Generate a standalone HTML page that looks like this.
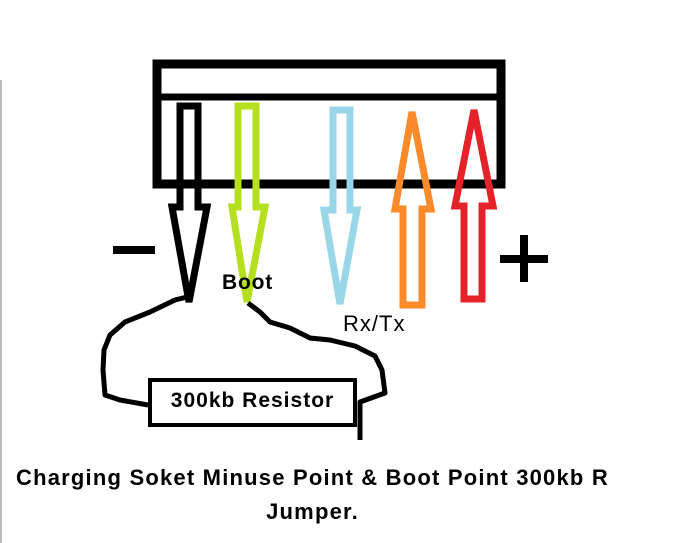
<!DOCTYPE html>
<html><head><style>
body{margin:0;background:#fff;width:679px;height:543px;overflow:hidden;position:relative;font-family:"Liberation Sans",sans-serif}
.t{position:absolute;font-weight:bold;color:#000;white-space:nowrap}
</style></head><body>
<div style="position:absolute;left:0;top:80px;width:2px;height:463px;background:#bbb"></div>
<svg width="679" height="543" style="position:absolute;left:0;top:0">
<rect x="157" y="64" width="344" height="120" fill="none" stroke="#000" stroke-width="9"/>
<line x1="157" y1="97" x2="501" y2="97" stroke="#000" stroke-width="7"/>
<g fill="none" stroke-width="7" stroke-linejoin="miter">
<path d="M180 106 L198 106 L198 207 L207 207 L189 302 L172 207 L180 207 Z" stroke="#000"/>
<path d="M238 106 L256 106 L256 207 L265 207 L247 302 L232 207 L238 207 Z" stroke="#b5e01f"/>
<path d="M333 110 L350 110 L350 210 L357 210 L340 304 L324 210 L333 210 Z" stroke="#99d6e8"/>
<path d="M412 112 L431 209 L422 209 L422 305 L403 305 L403 209 L395 209 Z" stroke="#fb8a2b"/>
<path d="M474 110 L493 206 L482 206 L482 299 L464 299 L464 206 L455 206 Z" stroke="#e52129"/>
</g>
<rect x="113" y="246" width="42" height="8" fill="#000"/>
<rect x="500" y="255" width="48" height="8" fill="#000"/>
<rect x="520" y="235" width="8" height="47" fill="#000"/>
<g fill="none" stroke="#000" stroke-width="5" stroke-linejoin="round">
<path d="M187 297 L175 300 L150 312 L125 322 L110 335 L104 350 L103 370 L105 395 L120 400 L148 405"/>
<path d="M248 303 L260 312 L270 322 L290 328 L310 338 L330 340 L355 346 L375 356 L382 370 L385 393 L360 402 L360 440"/>
</g>
<rect x="150" y="380" width="205" height="45" fill="#fff" stroke="#000" stroke-width="4"/>
</svg>
<div class="t" style="left:222px;top:271px;font-size:21px;letter-spacing:0.8px">Boot</div>
<div class="t" style="left:343px;top:311px;font-size:22px;font-weight:normal;letter-spacing:1px">Rx/Tx</div>
<div class="t" style="left:150px;top:389px;width:205px;text-align:center;font-size:21px;letter-spacing:1px">300kb Resistor</div>
<div class="t" style="left:0;top:461px;width:625px;text-align:center;font-size:22px;letter-spacing:1.2px;line-height:34px">Charging Soket Minuse Point &amp; Boot Point 300kb R<br>Jumper.</div>
</body></html>
